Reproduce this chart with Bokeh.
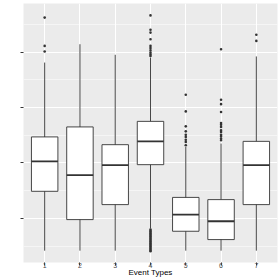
from bokeh.plotting import figure
from bokeh.models import ColumnDataSource, FixedTicker, Range1d
from bokeh.transform import dodge
from bokeh.embed import file_html
from bokeh.resources import INLINE

# ---- data ----
event_types = [1, 2, 3, 4, 5, 6, 7]
lower_whisker = [0.42, 0.42, 0.42, 0.82, 0.42, 0.42, 0.42]
q1 = [1.49, 0.98, 1.25, 1.97, 0.77, 0.62, 1.25]
median = [2.03, 1.78, 1.96, 2.39, 1.07, 0.95, 1.96]
q3 = [2.47, 2.65, 2.33, 2.75, 1.38, 1.34, 2.39]
upper_whisker = [3.81, 4.14, 3.95, 3.90, 2.29, 2.35, 3.92]

outliers_1 = [4.62, 4.11, 4.01]
outliers_2 = []
outliers_3 = []
outliers_4 = [4.66, 4.40, 4.35, 4.23, 4.11, 4.07, 4.03, 3.99, 3.96, 3.93,
              0.80, 0.78, 0.76, 0.74, 0.72, 0.70, 0.68, 0.66, 0.64, 0.62,
              0.60, 0.58, 0.56, 0.54, 0.52, 0.50, 0.48, 0.46, 0.44, 0.42, 0.41]
outliers_5 = [3.23, 2.93, 2.66, 2.57, 2.51, 2.47, 2.42, 2.38, 2.32]
outliers_6 = [4.05, 3.14, 3.06, 2.92, 2.72, 2.69, 2.65, 2.59, 2.56, 2.51,
              2.48, 2.44, 2.41]
outliers_7 = [4.31, 4.20]

y_major_ticks = [1, 2, 3, 4]
y_minor_ticks = [0.5, 1.5, 2.5, 3.5, 4.5]
x_label = "Event Types"

# ---- build ----
box_src = ColumnDataSource(dict(x=event_types, lo=lower_whisker, q1=q1,
                                med=median, q3=q3, hi=upper_whisker))
out_x, out_y = [], []
for t, vals in zip(event_types, [outliers_1, outliers_2, outliers_3, outliers_4,
                                 outliers_5, outliers_6, outliers_7]):
    out_x += [t] * len(vals)
    out_y += vals
out_src = ColumnDataSource(dict(x=out_x, y=out_y))

p = figure(width=280, height=280, output_backend="svg", toolbar_location=None,
           x_range=Range1d(0.4, 7.6), y_range=Range1d(0.207, 4.874),
           min_border_left=23, min_border_right=3, min_border_top=3,
           min_border_bottom=18)
p.background_fill_color = "#EBEBEB"
p.border_fill_color = "white"
p.outline_line_color = None

# grids
p.xaxis.ticker = FixedTicker(ticks=event_types)
p.yaxis.ticker = FixedTicker(ticks=y_major_ticks, minor_ticks=y_minor_ticks)
p.xgrid.grid_line_color = "white"
p.xgrid.grid_line_width = 1.1
p.ygrid.grid_line_color = "white"
p.ygrid.grid_line_width = 1.1
p.ygrid.minor_grid_line_color = "white"
p.ygrid.minor_grid_line_width = 0.5

# axes
for ax in (p.xaxis[0], p.yaxis[0]):
    ax.axis_line_color = None
    ax.major_tick_line_color = "#333333"
    ax.major_tick_in = 0
    ax.major_tick_out = 3
    ax.minor_tick_in = 0
    ax.minor_tick_out = 0
p.yaxis.major_label_overrides = {t: "" for t in y_major_ticks}
p.yaxis.major_label_standoff = 0
p.xaxis.major_label_text_font_size = "7px"
p.xaxis.major_label_text_color = "#4D4D4D"
p.xaxis.major_label_text_font = "Liberation Sans"
p.xaxis.major_label_standoff = -3
p.xaxis.axis_label = x_label
p.xaxis.axis_label_text_font = "Liberation Sans"
p.xaxis.axis_label_text_font_size = "8px"
p.xaxis.axis_label_text_font_style = "normal"
p.xaxis.axis_label_text_color = "black"
p.xaxis.axis_label_standoff = -3

# whiskers
p.segment(x0="x", y0="lo", x1="x", y1="hi", source=box_src,
          line_color="#333333", line_width=0.9)
# boxes
p.vbar(x="x", width=0.75, bottom="q1", top="q3", source=box_src,
       fill_color="white", line_color="#333333", line_width=0.9)
# medians
p.segment(x0=dodge("x", -0.375), y0="med", x1=dodge("x", 0.375), y1="med",
          source=box_src, line_color="#333333", line_width=1.8)
# outliers
p.scatter(x="x", y="y", source=out_src, size=2.6, fill_color="#333333",
          line_color=None)

open("out.html", "w").write(file_html(p, INLINE))
